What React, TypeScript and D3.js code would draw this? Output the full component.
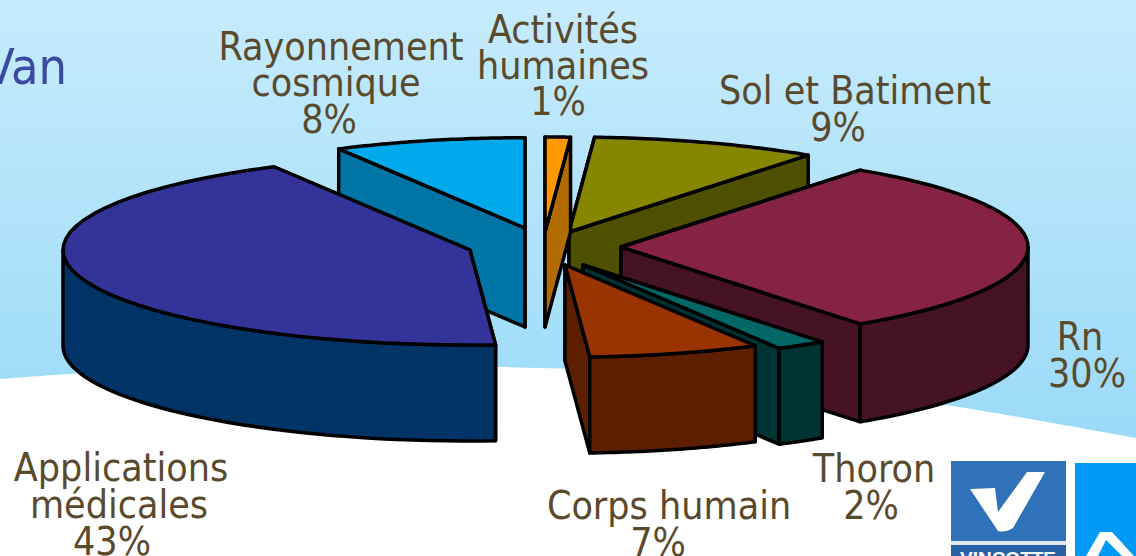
import React from "react";
import * as d3 from "d3";

const W = 1136, H = 556;
const categories = ["Activités humaines", "Sol et Batiment", "Rn", "Thoron", "Corps humain", "Applications médicales", "Rayonnement cosmique"];
const values = [1, 9, 30, 2, 7, 43, 8];
const topColors = ["#ff9900", "#868600", "#862345", "#006666", "#993300", "#333399", "#00a8ec"];
const sideColors = ["#b26b00", "#4f4f00", "#461226", "#003333", "#5c1f00", "#003366", "#0075a5"];
// explosion of each slice's apex, in px, and its radius and thickness
const apexX = [545, 569, 621, 583, 565, 470, 525];
const apexY = [232, 232, 247, 265, 265, 250, 228];
const radiusFactor = [1, 1, 1, 1, 0.97, 1, 0.95];
const depths = [95, 96, 98, 96, 96, 96, 99];
const drawOrder = [1, 6, 0, 2, 3, 4, 5];
const labelLines = [
  [["Activités", 563, 43], ["humaines", 563, 79], ["1%", 558, 115]],
  [["Sol et Batiment", 855, 104], ["9%", 838, 141]],
  [["Rn", 1080, 350], ["30%", 1087, 387]],
  [["Thoron", 874, 482], ["2%", 871, 519]],
  [["Corps humain", 669, 519], ["7%", 658, 556]],
  [["Applications", 121, 481], ["médicales", 119, 518], ["43%", 112, 555]],
  [["Rayonnement", 341, 60], ["cosmique", 336, 96], ["8%", 329, 133]],
];
const swooshX = [0, 70, 120, 300, 500, 640, 800, 940, 1030, 1136];
const swooshY = [379, 374, 371, 366, 367, 372, 385, 404, 419, 438];

const RX = 407, RY = 95;
const LABEL_FONT = "'DejaVu Sans Condensed', 'DejaVu Sans', sans-serif";

const arcs = d3.pie<number>().sort(null).startAngle(0).endAngle(2 * Math.PI)(values);
const line = d3.line<number[]>().x((p) => p[0]).y((p) => p[1]);
const sample = (a0: number, a1: number): number[] => d3.range(0, 1.0001, 1 / 40).map((t) => a0 + (a1 - a0) * t);

export default function App() {
  const swoosh = d3.area<number>().x((d) => d).y0(H).y1((_, i) => swooshY[i]).curve(d3.curveCatmullRom)(swooshX) || "";
  return (
    <svg width={W} height={H} viewBox={`0 0 ${W} ${H}`} style={{ position: "fixed", left: 0, top: 0 }}>
      <defs>
        <linearGradient id="bg" x1="0" y1="0" x2="0" y2="1">
          <stop offset="0" stopColor="#c6ebfc" />
          <stop offset="1" stopColor="#8fd6f7" />
        </linearGradient>
        <clipPath id="vinco"><rect x={951} y={461} width={115} height={95} /></clipPath>
      </defs>
      <rect width={W} height={H} fill="url(#bg)" />
      <path d={swoosh} fill="#fff" />
      <text x={-16} y={84} fill="#3a4a9f" fontFamily={LABEL_FONT} fontSize={50}>Van</text>

      {drawOrder.map((i) => {
        const a = arcs[i], cx = apexX[i], cy = apexY[i], f = radiusFactor[i], depth = depths[i];
        const a0 = a.startAngle, a1 = a.endAngle;
        const rim = (t: number): number[] => [cx + f * RX * Math.sin(t), cy - f * RY * Math.cos(t)];
        const face = (ang: number) => {
          const p = rim(ang);
          return line([[cx, cy], p, [p[0], p[1] + depth], [cx, cy + depth]]) + "Z";
        };
        const lo = Math.max(a0, Math.PI / 2), hi = Math.min(a1, 1.5 * Math.PI);
        const front = lo < hi ? sample(lo, hi).map(rim) : [];
        const frontPath = front.length
          ? line([...front, ...front.slice().reverse().map((p) => [p[0], p[1] + depth])]) + "Z"
          : null;
        const top = line([[cx, cy], ...sample(a0, a1).map(rim)]) + "Z";
        const common = { stroke: "#000", strokeWidth: 3.5, strokeLinejoin: "round" as const };
        return (
          <g key={categories[i]}>
            <path d={face(a0)} fill={sideColors[i]} {...common} />
            <path d={face(a1)} fill={sideColors[i]} {...common} />
            {frontPath && <path d={frontPath} fill={sideColors[i]} {...common} />}
            <path d={top} fill={topColors[i]} {...common} />
          </g>
        );
      })}

      {labelLines.map((lines, i) =>
        lines.map(([t, x, y]) => (
          <text key={`${i}-${t}`} x={x as number} y={y as number} textAnchor="middle" fill="#5a4a2d"
            fontFamily={LABEL_FONT} fontSize={39}>{t as string}</text>
        ))
      )}

      <g clipPath="url(#vinco)">
        <rect x={951} y={461} width={115} height={95} fill="#2f72b9" />
        <path d="M970,489 L995,488 L998,512 L1027,472 L1045,472 L1013,528 Q1005,533 998,531 Z" fill="#fff" />
        <rect x={951} y={541} width={115} height={4} fill="#dfe9f5" />
        <rect x={951} y={545} width={115} height={11} fill="#2a62a6" />
        <text x={1008} y={565} textAnchor="middle" fill="#fff" fontFamily="'Liberation Sans', sans-serif" fontWeight="bold" fontSize={19}>VINCOTTE</text>
      </g>
      <rect x={1075} y={463} width={61} height={93} fill="#0099f5" />
      <path d="M1086,556 L1100,532 L1112,532 L1134,556 L1122,556 L1106,540 L1098,556 Z" fill="#fff" />
    </svg>
  );
}
